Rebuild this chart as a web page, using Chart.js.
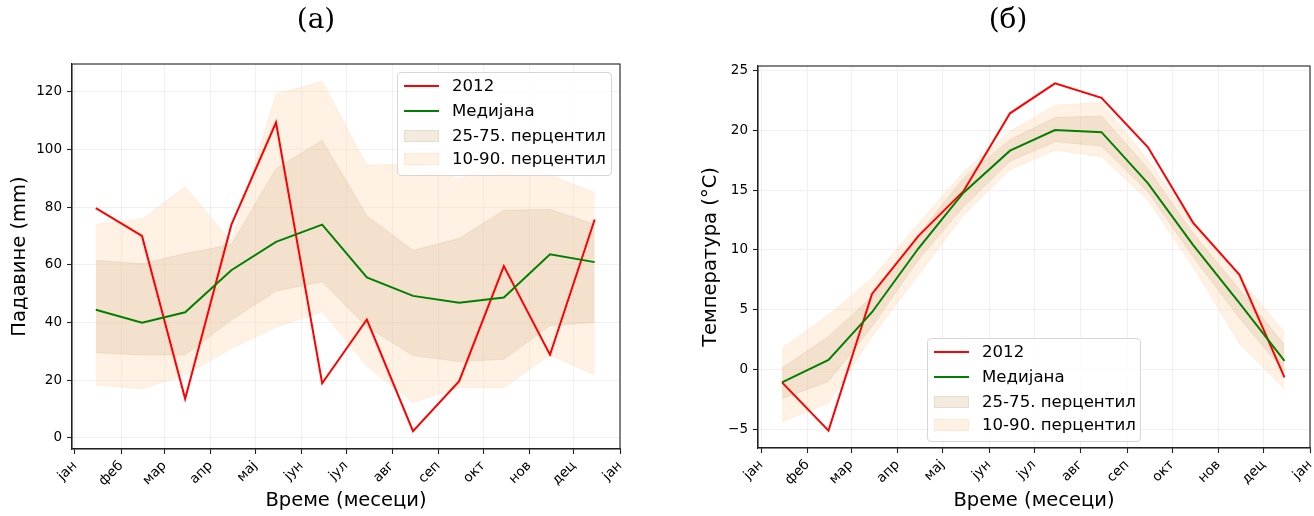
<!DOCTYPE html>
<html>
<head>
<meta charset="utf-8">
<script src="https://cdn.jsdelivr.net/npm/chart.js@4.4.1/dist/chart.umd.min.js"></script>
<style>
  body { margin: 0; background: #fff; width: 1314px; height: 516px; overflow: hidden; position: relative; font-family: 'DejaVu Sans', sans-serif; }
  .panel { position: absolute; top: 0; width: 657px; height: 516px; }
  .ttl { position: absolute; top: 2px; font-family: 'DejaVu Serif', serif; font-size: 28px; transform: translateX(-50%); color: #000; }
  .leg { position: absolute; background: rgba(255,255,255,0.8); border: 1px solid #d6d6d6; border-radius: 4px; }
  .row { position: absolute; left: 0; height: 20px; font-size: 16.6px; line-height: 20px; color: #000; white-space: nowrap; }
  .sw { position: absolute; left: 6px; width: 35px; }
  .lbl { position: absolute; left: 54px; top: 0; }
</style>
</head>
<body>
<div class="panel" style="left:0"><canvas id="rain" width="657" height="516"></canvas></div>
<div class="panel" style="left:657px"><canvas id="temp" width="657" height="516"></canvas></div>
<div class="ttl" style="left:316px">(a)</div>
<div class="ttl" style="left:1008px">(б)</div>
<div class="leg" id="legRain" style="left:397px; top:72px; width:213px; height:102px"></div>
<div class="leg" id="legTemp" style="left:927px; top:338px; width:212px; height:102px"></div>
<script>
  // x axis: day of year (2012), ticks at first of month
  var monthStarts = [0, 31, 60, 91, 121, 152, 182, 213, 244, 274, 305, 335, 366];
  var monthLabels = ['јан', 'феб', 'мар', 'апр', 'мај', 'јун', 'јул', 'авг', 'сеп', 'окт', 'нов', 'дец', 'јан'];
  // data points sit on the 15th of each month
  var midMonth = [14, 45, 74, 105, 135, 166, 196, 227, 258, 288, 319, 349];

  // (a) precipitation, mm
  var rain2012 = [79.6, 70.0, 13.5, 73.8, 109.3, 18.9, 41.0, 2.3, 19.6, 59.5, 28.8, 75.7];
  var rainMedian = [44.4, 39.9, 43.5, 58.1, 67.9, 73.9, 55.6, 49.2, 46.8, 48.6, 63.6, 60.9];
  var rainP25 = [29.5, 28.7, 28.7, 40.8, 50.9, 54.1, 38.5, 28.5, 26.4, 27.2, 38.9, 40.0];
  var rainP75 = [61.5, 60.3, 63.9, 67.0, 93.3, 103.1, 77.0, 65.0, 69.1, 78.9, 79.2, 74.0];
  var rainP10 = [18.3, 17.0, 21.8, 31.0, 38.3, 43.7, 24.9, 12.3, 17.4, 17.4, 28.7, 21.8];
  var rainP90 = [74.0, 75.8, 87.0, 68.0, 119.2, 123.5, 94.5, 95.0, 89.8, 96.2, 91.0, 85.0];
  var rainTicks = [0, 20, 40, 60, 80, 100, 120];

  // (б) temperature, °C
  var temp2012 = [-1.05, -5.08, 6.33, 11.17, 14.9, 21.4, 23.9, 22.7, 18.56, 12.28, 7.92, -0.64];
  var tempMedian = [-1.05, 0.83, 4.8, 10.14, 14.78, 18.28, 20.0, 19.83, 15.56, 10.42, 5.56, 0.75];
  var tempP25 = [-2.42, -0.97, 3.6, 9.2, 13.6, 17.4, 19.03, 18.67, 14.86, 9.45, 4.3, -0.14];
  var tempP75 = [0.14, 2.78, 6.1, 11.25, 16.0, 19.2, 21.05, 21.17, 16.8, 11.4, 6.67, 2.08];
  var tempP10 = [-4.36, -2.78, 2.78, 7.9, 12.9, 16.7, 18.33, 17.78, 14.17, 8.6, 2.2, -1.6];
  var tempP90 = [1.8, 4.58, 7.64, 12.2, 16.5, 19.9, 22.08, 22.3, 17.5, 12.2, 7.64, 3.1];
  var tempTicks = [-5, 0, 5, 10, 15, 20, 25];

  var RED = '#ff0000';
  var GREEN = '#008000';
  var BAND_IQR = 'rgba(210,180,140,0.27)';
  var BAND_OUT = 'rgba(255,218,185,0.38)';
  var legendLabels = ['2012', 'Медијана', '25-75. перцентил', '10-90. перцентил'];

  function pts(ys) {
      return ys.map(function(y, i) { return { x: midMonth[i], y: y }; });
  }

  function band(ys, color, fill, order) {
      return { data: pts(ys), borderColor: color, borderWidth: 1, backgroundColor: color, fill: fill, pointRadius: 0, tension: 0, order: order };
  }

  var framePlugin = {
      id: 'frame',
      afterDraw: function(chart) {
          var a = chart.chartArea, ctx = chart.ctx;
          ctx.save();
          ctx.strokeStyle = '#222';
          ctx.lineWidth = 1.1;
          ctx.strokeRect(a.left, a.top, a.right - a.left, a.bottom - a.top);
          ctx.restore();
      }
  };

  function RenderPanel(id, d, lay) {
      var ctx = document.getElementById(id).getContext('2d');
      return new Chart(ctx, {
          type: 'line',
          data: {
              datasets: [
                  band(d.p90, BAND_OUT, '+1', 4),
                  band(d.p10, BAND_OUT, false, 4),
                  band(d.p75, BAND_IQR, '+1', 3),
                  band(d.p25, BAND_IQR, false, 3),
                  { data: pts(d.year), borderColor: RED, borderWidth: 2, pointRadius: 0, fill: false, tension: 0, order: 1 },
                  { data: pts(d.median), borderColor: GREEN, borderWidth: 2, pointRadius: 0, fill: false, tension: 0, order: 0 }
              ]
          },
          options: {
              responsive: false,
              animation: false,
              devicePixelRatio: 1,
              layout: { padding: { left: 0, right: lay.right, top: lay.top, bottom: 0 } },
              plugins: { legend: { display: false }, tooltip: { enabled: false } },
              scales: {
                  x: {
                      type: 'linear',
                      min: -2,
                      max: 366,
                      afterBuildTicks: function(s) { s.ticks = monthStarts.map(function(v) { return { value: v }; }); },
                      afterFit: function(s) { s.height = 516 - lay.bottom; s.paddingLeft = 0; s.paddingRight = 0; },
                      ticks: {
                          autoSkip: false, minRotation: 45, maxRotation: 45, padding: 4, color: '#000',
                          font: { family: 'DejaVu Sans', size: 13.5 },
                          callback: function(v, i) { return monthLabels[i]; }
                      },
                      grid: { color: '#ececec', lineWidth: 0.8, tickColor: '#222', tickLength: 5, tickWidth: 1.1 },
                      border: { display: true, color: '#222', width: 1.1 },
                      title: { display: true, text: 'Време (месеци)', color: '#000', font: { family: 'DejaVu Sans', size: 19.5 }, padding: { top: 0, bottom: 3 } }
                  },
                  y: {
                      min: d.ymin,
                      max: d.ymax,
                      afterBuildTicks: function(s) { s.ticks = d.ticks.map(function(v) { return { value: v }; }); },
                      afterFit: function(s) { s.width = lay.left; },
                      ticks: {
                          padding: 5, color: '#000',
                          font: { family: 'DejaVu Sans', size: 13.5 },
                          callback: function(v) { return String(v).replace('-', '\u2212'); }
                      },
                      grid: { color: '#ececec', lineWidth: 0.8, tickColor: '#222', tickLength: 5, tickWidth: 1.1 },
                      border: { display: true, color: '#222', width: 1.1 },
                      title: { display: true, text: d.ytitle, color: '#000', font: { family: 'DejaVu Sans', size: 19.5 }, padding: { top: lay.titlePad, bottom: 0 } }
                  }
              }
          },
          plugins: [framePlugin]
      });
  }

  function RenderLegend(id) {
      var el = document.getElementById(id);
      var rows = [13, 38, 62.5, 86];
      var sw = [
          'top:9px;height:2px;background:' + RED,
          'top:9px;height:2px;background:' + GREEN,
          'top:4px;height:12px;background:' + BAND_IQR + ';box-shadow:inset 0 0 0 1px ' + BAND_IQR,
          'top:4px;height:12px;background:' + BAND_OUT + ';box-shadow:inset 0 0 0 1px ' + BAND_OUT
      ];
      var html = '';
      for (var i in legendLabels) {
          html += '<div class="row" style="top:' + (rows[i] - 10) + 'px"><div class="sw" style="' + sw[i] + '"></div><span class="lbl">' + legendLabels[i] + '</span></div>';
      }
      el.innerHTML = html;
  }

  RenderPanel('rain', {
      year: rain2012, median: rainMedian, p25: rainP25, p75: rainP75, p10: rainP10, p90: rainP90,
      ticks: rainTicks, ymin: -3.9, ymax: 129.6, ytitle: 'Падавине (mm)'
  }, { left: 72, right: 37, top: 64, bottom: 449, titlePad: 8 });

  RenderPanel('temp', {
      year: temp2012, median: tempMedian, p25: tempP25, p75: tempP75, p10: tempP10, p90: tempP90,
      ticks: tempTicks, ymin: -6.53, ymax: 25.35, ytitle: 'Температура (°C)'
  }, { left: 101, right: 4, top: 66, bottom: 448, titlePad: 42 });

  RenderLegend('legRain');
  RenderLegend('legTemp');
</script>
</body>
</html>
